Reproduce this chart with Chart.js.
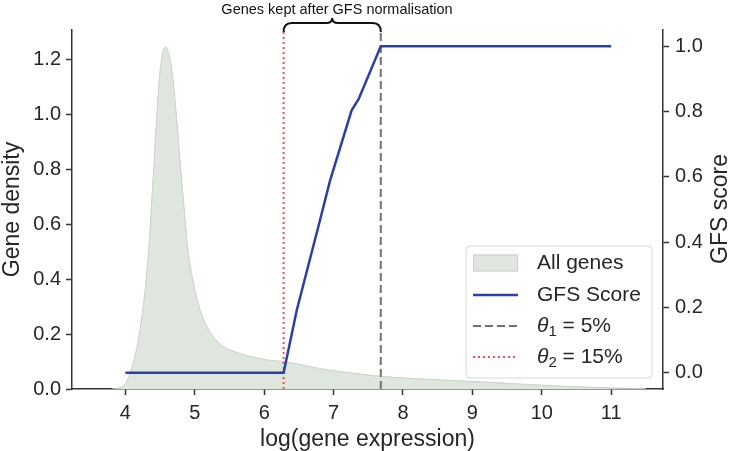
<!DOCTYPE html>
<html>
<head>
<meta charset="utf-8">
<script src="https://cdn.jsdelivr.net/npm/chart.js@4.4.1/dist/chart.umd.min.js"></script>
<style>
  html, body { margin: 0; padding: 0; background: #fff; }
</style>
</head>
<body>
<canvas id="gfsChart" width="731" height="451"></canvas>
<script>
// Gene density (kde of log expression)
let densX = [3.8, 3.92, 4.0, 4.1, 4.2, 4.3, 4.35, 4.4, 4.45, 4.5, 4.55, 4.585, 4.62, 4.66, 4.7, 4.75, 4.8, 4.85, 4.9, 4.97, 5.03, 5.1, 5.2, 5.3, 5.41, 5.55, 5.7, 5.9, 6.04, 6.28, 6.6, 6.9, 7.3, 7.68, 8.3, 8.97, 9.7, 10.4, 11.0, 11.5];
let densY = [0, 0.005, 0.02, 0.085, 0.2, 0.4, 0.56, 0.77, 0.99, 1.16, 1.235, 1.245, 1.225, 1.18, 1.09, 0.95, 0.79, 0.65, 0.51, 0.40, 0.33, 0.27, 0.215, 0.18, 0.155, 0.138, 0.125, 0.113, 0.106, 0.10, 0.085, 0.07, 0.057, 0.046, 0.036, 0.028, 0.018, 0.009, 0.004, 0.001];

// GFS score curve
let gfsX = [4.0, 6.28, 6.47, 6.78, 6.95, 7.26, 7.36, 7.68, 11.0];
let gfsY = [0, 0, 0.192, 0.447, 0.589, 0.804, 0.838, 1.0, 1.0];

// thresholds (theta1 = 5%, theta2 = 15%)
let theta1 = 7.68;
let theta2 = 6.28;
let legendLabels = ['All genes', 'GFS Score', 'θ_1 = 5%', 'θ_2 = 15%'];

// tick labels
let xTicks = [4, 5, 6, 7, 8, 9, 10, 11];
let densTicks = [0, 0.2, 0.4, 0.6, 0.8, 1.0, 1.2];
let gfsTicks = [0, 0.2, 0.4, 0.6, 0.8, 1.0];

let fontFamily = '"Liberation Sans", Arial, sans-serif';
let axisColor = '#333333';
let textColor = '#262626';

function pts(xs, ys) {
    return xs.map((x, i) => ({ x: x, y: ys[i] }));
}

// legend, top annotation and the right-hand title are drawn by hand
let extrasPlugin = {
    id: 'extras',
    afterDraw(chart) {
        let ctx = chart.ctx;
        let xs = chart.scales.x;
        let x1 = xs.getPixelForValue(theta2);
        let x2 = xs.getPixelForValue(theta1);
        let mid = (x1 + x2) / 2;

        ctx.save();
        // curly brace over the kept region
        ctx.strokeStyle = '#111';
        ctx.lineWidth = 2;
        ctx.beginPath();
        ctx.moveTo(x1, 32);
        ctx.quadraticCurveTo(x1, 23, x1 + 8, 23);
        ctx.lineTo(mid - 6, 23);
        ctx.quadraticCurveTo(mid, 23, mid, 18);
        ctx.quadraticCurveTo(mid, 23, mid + 6, 23);
        ctx.lineTo(x2 - 8, 23);
        ctx.quadraticCurveTo(x2, 23, x2, 32);
        ctx.stroke();

        ctx.fillStyle = '#111';
        ctx.font = '14.5px ' + fontFamily;
        ctx.textAlign = 'center';
        ctx.textBaseline = 'middle';
        ctx.fillText('Genes kept after GFS normalisation', 337, 10);

        // right axis title, reading bottom to top
        ctx.save();
        ctx.translate(721, 209);
        ctx.rotate(-Math.PI / 2);
        ctx.font = '23px ' + fontFamily;
        ctx.fillStyle = textColor;
        ctx.fillText(chart.options.scales.y2.title.text, 0, 0);
        ctx.restore();

        // legend box
        let bx = 466, by = 246, bw = 186, bh = 132;
        ctx.beginPath();
        ctx.roundRect(bx, by, bw, bh, 4);
        ctx.fillStyle = 'rgba(255,255,255,0.85)';
        ctx.fill();
        ctx.strokeStyle = '#d8d8d8';
        ctx.lineWidth = 1;
        ctx.stroke();

        let rows = [263, 295, 326, 357];
        chart.data.datasets.forEach((ds, i) => {
            let y = rows[i];
            ctx.save();
            if (i === 0) {
                ctx.fillStyle = ds.backgroundColor;
                ctx.strokeStyle = ds.borderColor;
                ctx.lineWidth = 1;
                ctx.fillRect(473, y - 8.5, 45, 17);
                ctx.strokeRect(473.5, y - 8, 44, 16);
            } else {
                ctx.strokeStyle = ds.borderColor;
                ctx.lineWidth = ds.borderWidth;
                ctx.setLineDash(ds.borderDash || []);
                ctx.beginPath();
                ctx.moveTo(473, y);
                ctx.lineTo(518, y);
                ctx.stroke();
            }
            ctx.restore();

            // label text, theta entries get italic symbol + subscript
            let label = ds.label;
            ctx.fillStyle = textColor;
            ctx.textAlign = 'left';
            ctx.textBaseline = 'middle';
            let m = label.match(/^(θ)_(\d)(.*)$/);
            if (m) {
                let tx = 537;
                ctx.font = 'italic 21px ' + fontFamily;
                ctx.fillText(m[1], tx, y);
                tx += ctx.measureText(m[1]).width;
                ctx.font = '15px ' + fontFamily;
                ctx.fillText(m[2], tx, y + 6);
                tx += ctx.measureText(m[2]).width;
                ctx.font = '21px ' + fontFamily;
                ctx.fillText(m[3], tx, y);
            } else {
                ctx.font = '21px ' + fontFamily;
                ctx.fillText(label, 537, y);
            }
        });
        ctx.restore();
    }
};

let ctx = document.getElementById('gfsChart').getContext('2d');

let myChart = new Chart(ctx, {
    type: 'line',
    data: {
        datasets: [{
            label: legendLabels[0],
            data: pts(densX, densY),
            yAxisID: 'y',
            fill: 'origin',
            backgroundColor: '#dfe6dd',
            borderColor: '#c6d3c3',
            borderWidth: 1,
            pointRadius: 0,
            cubicInterpolationMode: 'monotone',
            order: 4
        }, {
            label: legendLabels[1],
            data: pts(gfsX, gfsY),
            yAxisID: 'y2',
            borderColor: '#2a40a8',
            borderWidth: 2.5,
            pointRadius: 0,
            tension: 0,
            order: 1
        }, {
            label: legendLabels[2],
            data: pts([theta1, theta1], [-0.05, 1.05]),
            yAxisID: 'y2',
            borderColor: '#707070',
            borderWidth: 2,
            borderDash: [8, 4],
            pointRadius: 0,
            order: 3
        }, {
            label: legendLabels[3],
            data: pts([theta2, theta2], [-0.05, 1.05]),
            yAxisID: 'y2',
            borderColor: '#ff4d4d',
            borderWidth: 2,
            borderDash: [2, 3],
            pointRadius: 0,
            order: 2
        }]
    },
    options: {
        responsive: false,
        animation: false,
        devicePixelRatio: 1,
        layout: { padding: { top: 30, left: 0, right: 0, bottom: 0 } },
        plugins: {
            legend: { display: false },
            tooltip: { enabled: false }
        },
        scales: {
            x: {
                type: 'linear',
                min: 3.2305,
                max: 11.747,
                afterBuildTicks: s => { s.ticks = xTicks.map(v => ({ value: v })); },
                afterFit: s => { s.height = 62; },
                ticks: {
                    color: textColor,
                    padding: 6,
                    font: { family: fontFamily, size: 20 },
                    callback: v => String(v)
                },
                grid: { drawOnChartArea: false, tickLength: 6, color: axisColor, tickWidth: 1.5 },
                border: { color: axisColor, width: 1.5 },
                title: {
                    display: true,
                    text: 'log(gene expression)',
                    color: textColor,
                    padding: { top: 0, bottom: 2 },
                    font: { family: fontFamily, size: 23, lineHeight: 0.8 }
                }
            },
            y: {
                position: 'left',
                min: 0,
                max: 1.307,
                afterBuildTicks: s => { s.ticks = densTicks.map(v => ({ value: v })); },
                afterFit: s => { s.width = 72; },
                ticks: {
                    color: textColor,
                    padding: 5,
                    font: { family: fontFamily, size: 20 },
                    callback: v => v.toFixed(1)
                },
                grid: { drawOnChartArea: false, tickLength: 6, color: axisColor, tickWidth: 1.5 },
                border: { color: axisColor, width: 1.5 },
                title: {
                    display: true,
                    text: 'Gene density',
                    color: textColor,
                    padding: { top: 1.5, bottom: 0 },
                    font: { family: fontFamily, size: 23, lineHeight: 1 }
                }
            },
            y2: {
                position: 'right',
                min: -0.05,
                max: 1.05,
                afterBuildTicks: s => { s.ticks = gfsTicks.map(v => ({ value: v })); },
                afterFit: s => { s.width = 68; },
                ticks: {
                    color: textColor,
                    padding: 6,
                    font: { family: fontFamily, size: 20 },
                    callback: v => v.toFixed(1)
                },
                grid: { drawOnChartArea: false, tickLength: 6, color: axisColor, tickWidth: 1.5 },
                border: { color: axisColor, width: 1.5 },
                title: { display: false, text: 'GFS score' }
            }
        }
    },
    plugins: [extrasPlugin]
});
</script>
</body>
</html>
